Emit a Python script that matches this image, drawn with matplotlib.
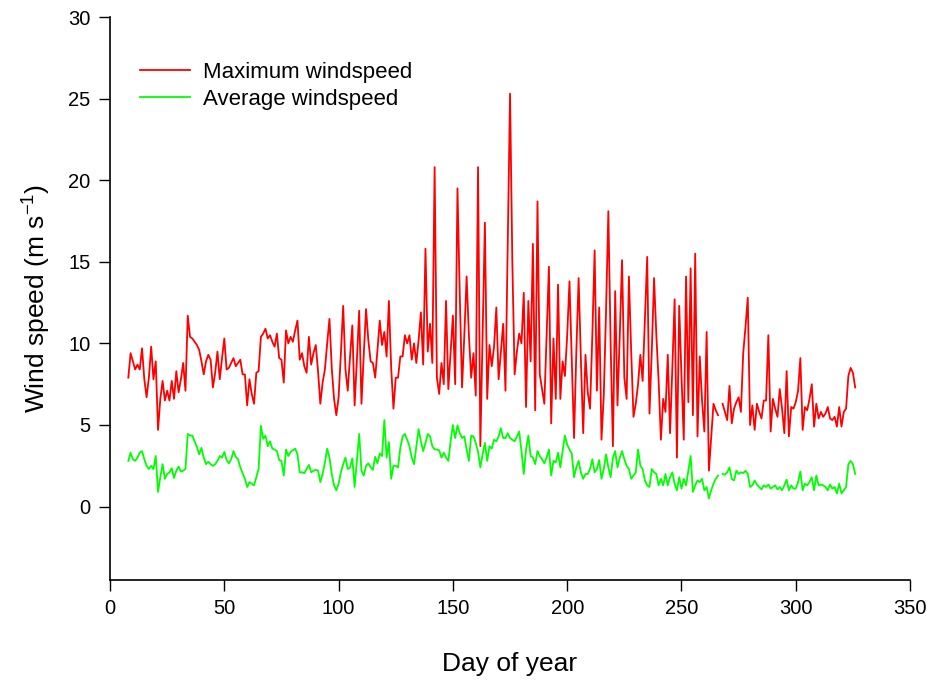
import matplotlib
matplotlib.use("Agg")
import matplotlib.pyplot as plt
import numpy as np

plt.rcParams['font.family'] = ['Liberation Sans', 'DejaVu Sans']
plt.rcParams['mathtext.fontset'] = 'custom'
plt.rcParams['mathtext.rm'] = 'Liberation Sans'

# daily values, day 8 .. 326 (day 267 missing)
first_day = 8

max_wind = [
    7.9, 9.4, 8.9, 8.4, 8.7, 8.4, 9.7, 7.8, 6.7, 7.9,          # 8-17
    9.8, 7.8, 8.9, 4.7, 6.6, 7.7, 6.5, 7.1, 6.5, 7.7,          # 18-27
    6.6, 8.3, 7.0, 7.8, 8.8, 7.1, 11.7, 10.4, 10.3, 10.1,      # 28-37
    9.9, 9.6, 8.9, 8.1, 8.9, 9.3, 9.0, 7.3, 8.2, 9.5,          # 38-47
    7.8, 9.1, 10.3, 8.4, 8.5, 8.8, 9.1, 8.6, 8.8, 9.0,         # 48-57
    8.1, 8.1, 6.2, 7.8, 6.9, 6.3, 8.2, 8.3, 10.4, 10.6,        # 58-67
    10.9, 10.3, 10.5, 10.1, 9.8, 10.6, 9.1, 9.0, 7.6, 10.8,    # 68-77
    10.0, 10.4, 10.1, 10.8, 11.4, 9.0, 9.4, 8.6, 8.2, 10.4,    # 78-87
    8.7, 9.4, 9.9, 8.3, 6.3, 7.6, 8.4, 10.0, 11.5, 8.5,        # 88-97
    6.6, 5.6, 6.7, 9.4, 12.3, 8.4, 7.1, 9.2, 11.1, 6.2,        # 98-107
    9.0, 12.0, 6.3, 9.3, 12.1, 10.2, 8.9, 8.8, 7.9, 9.6,       # 108-117
    11.4, 9.9, 10.7, 9.2, 12.6, 8.5, 6.0, 7.9, 7.9, 9.2,       # 118-127
    9.2, 10.5, 10.0, 10.5, 9.0, 10.0, 8.8, 10.2, 11.9, 8.7,    # 128-137
    15.8, 9.5, 11.2, 8.8, 20.8, 7.9, 6.9, 8.8, 7.5, 12.6,      # 138-147
    7.2, 9.4, 11.7, 7.5, 19.5, 13.0, 7.3, 10.5, 14.1, 10.5,    # 148-157
    7.9, 9.4, 6.8, 20.8, 3.7, 10.5, 17.4, 6.6, 9.9, 8.6,       # 158-167
    9.8, 12.2, 7.8, 9.5, 11.2, 7.1, 16.0, 25.3, 15.0, 8.1,     # 168-177
    9.5, 10.6, 10.0, 13.1, 6.1, 12.6, 8.9, 16.1, 5.9, 18.7,    # 178-187
    8.1, 7.2, 6.3, 10.5, 14.7, 5.1, 10.3, 6.6, 13.6, 6.6,      # 188-197
    8.9, 8.0, 10.5, 13.8, 9.0, 4.2, 9.5, 14.0, 9.0, 4.5,       # 198-207
    9.3, 7.0, 6.0, 10.5, 15.7, 7.1, 12.2, 4.1, 6.8, 12.0,      # 208-217
    18.1, 10.0, 3.7, 13.2, 6.2, 10.5, 15.1, 7.9, 6.6, 14.1,    # 218-227
    9.5, 5.5, 6.3, 7.5, 9.3, 7.7, 11.5, 15.3, 5.7, 9.5,        # 228-237
    14.0, 10.5, 7.7, 4.1, 6.6, 5.8, 9.3, 4.5, 8.5, 12.7,       # 238-247
    3.0, 12.3, 8.0, 4.1, 14.1, 6.4, 14.6, 5.6, 15.5, 4.3,      # 248-257
    9.2, 6.5, 4.6, 10.7, 2.2, 4.3, 6.3, 5.9, 5.6, np.nan,      # 258-267
    6.3, 5.8, 5.3, 7.4, 5.1, 6.0, 6.4, 6.7, 5.8, 9.4,          # 268-277
    11.0, 12.8, 5.0, 6.2, 4.7, 6.3, 5.8, 5.4, 6.5, 6.5,        # 278-287
    10.5, 4.6, 6.6, 6.0, 5.5, 7.2, 6.0, 4.5, 8.3, 4.3,         # 288-297
    6.1, 6.0, 6.4, 7.1, 9.1, 4.7, 6.1, 5.9, 6.6, 7.5,          # 298-307
    4.9, 6.3, 5.4, 5.8, 5.5, 5.7, 6.1, 5.4, 5.3, 5.5,          # 308-317
    4.9, 6.1, 4.9, 5.8, 6.0, 8.0, 8.5, 8.2, 7.3,               # 318-326
]

avg_wind = [
    2.8, 3.3, 2.9, 2.8, 3.0, 3.3, 3.4, 2.9, 2.5, 2.3,          # 8-17
    2.5, 2.3, 3.1, 0.9, 1.8, 2.6, 1.7, 2.0, 2.1, 2.35,         # 18-27
    1.75, 2.2, 2.45, 2.15, 2.2, 2.3, 4.45, 4.35, 4.35, 4.0,    # 28-37
    3.65, 3.2, 3.6, 3.0, 2.6, 2.75, 2.6, 2.5, 2.6, 2.8,        # 38-47
    3.1, 3.0, 3.35, 2.85, 2.65, 2.9, 3.4, 3.05, 2.9, 2.4,      # 48-57
    2.05, 1.7, 1.2, 1.5, 1.4, 1.3, 1.8, 2.3, 4.95, 4.15,       # 58-67
    4.35, 3.7, 4.0, 3.55, 3.5, 3.4, 2.85, 2.8, 1.9, 3.5,       # 68-77
    3.1, 3.35, 3.45, 3.55, 3.2, 2.1, 2.1, 2.05, 2.3, 2.55,     # 78-87
    2.1, 2.2, 2.25, 2.2, 1.5, 2.0, 2.7, 3.55, 3.0, 2.0,        # 88-97
    1.3, 1.0, 1.4, 2.1, 2.6, 3.0, 2.3, 2.4, 2.95, 1.2,         # 98-107
    2.8, 4.45, 2.2, 1.9, 2.5, 2.65, 2.4, 2.25, 3.05, 2.65,     # 108-117
    3.25, 3.1, 5.3, 3.0, 3.95, 1.7, 2.5, 2.5, 2.4, 3.6,        # 118-127
    4.3, 4.45, 4.1, 3.7, 3.0, 2.6, 3.65, 4.75, 4.0, 3.4,       # 128-137
    3.9, 4.45, 4.3, 3.7, 3.5, 3.5, 3.45, 3.0, 3.3, 3.0,        # 138-147
    2.8, 4.0, 5.0, 4.2, 4.97, 4.5, 4.2, 4.3, 3.5, 2.8,         # 148-157
    4.35, 4.3, 3.9, 3.35, 2.4, 3.2, 3.9, 2.8, 3.7, 3.55,       # 158-167
    4.1, 4.0, 4.3, 4.8, 4.2, 4.2, 4.5, 4.2, 4.1, 4.0,          # 168-177
    4.3, 4.6, 3.4, 2.0, 3.5, 4.35, 3.1, 3.0, 2.6, 3.4,         # 178-187
    3.1, 2.9, 2.65, 3.0, 3.5, 1.9, 2.8, 2.7, 3.3, 2.4,         # 188-197
    3.4, 4.35, 3.8, 3.5, 3.25, 1.8, 2.4, 2.8, 2.1, 1.7,        # 198-207
    2.0, 2.0, 2.3, 2.9, 2.1, 2.3, 2.85, 1.7, 2.3, 3.2,         # 208-217
    2.4, 1.8, 3.0, 3.4, 2.4, 3.0, 3.4, 2.9, 2.5, 2.3,          # 218-227
    1.7, 1.9, 2.1, 3.5, 2.5, 2.3, 1.6, 1.3, 1.2, 2.3,          # 228-237
    2.1, 2.0, 1.3, 1.7, 1.3, 2.0, 1.3, 1.8, 2.1, 1.4,          # 238-247
    1.0, 1.8, 1.1, 1.7, 1.3, 2.2, 3.1, 0.9, 1.3, 1.6,          # 248-257
    1.5, 1.7, 1.0, 1.2, 0.5, 1.0, 1.4, 1.7, 1.9, np.nan,       # 258-267
    2.0, 1.95, 2.1, 2.4, 1.7, 1.6, 2.2, 2.0, 2.1, 2.05,        # 268-277
    2.2, 2.0, 1.2, 1.3, 1.6, 1.35, 1.2, 1.05, 1.3, 1.2,        # 278-287
    1.35, 1.1, 1.2, 1.3, 1.05, 1.2, 1.0, 1.3, 1.65, 1.0,       # 288-297
    1.3, 1.1, 1.1, 1.5, 2.15, 1.0, 1.4, 1.3, 1.5, 1.8,         # 298-307
    1.0, 1.9, 1.3, 1.35, 1.3, 1.2, 1.0, 1.35, 1.1, 1.2,        # 308-317
    0.8, 1.4, 0.8, 1.0, 1.2, 2.6, 2.8, 2.6, 2.0,               # 318-326
]

days = np.arange(first_day, first_day + len(max_wind))

fig = plt.figure(figsize=(9.42, 6.81), dpi=100)
ax = fig.add_axes([0.1168, 0.1483, 0.8493, 0.8267])

ax.plot(days, max_wind, color='#ff0000', lw=1.3, label='Maximum windspeed')
ax.plot(days, avg_wind, color='#00ff00', lw=1.3, label='Average windspeed')

ax.set_xlim(0, 350)
ax.set_ylim(-4.5, 30)
ax.set_xticks(np.arange(0, 351, 50))
ax.set_yticks(np.arange(0, 31, 5))

for side in ['top', 'right']:
    ax.spines[side].set_visible(False)
for side in ['left', 'bottom']:
    ax.spines[side].set_linewidth(1.2)

ax.tick_params(direction='out', length=8, width=1, labelsize=14.5, pad=6)
ax.set_xlabel('Day of year', fontsize=19, labelpad=24)
ax.set_ylabel(r'Wind speed (m s$^{\mathregular{-1}}$)', fontsize=19, labelpad=12)

ax.legend(loc='upper left', bbox_to_anchor=(0.0375, 0.92), frameon=False,
          borderaxespad=0, borderpad=0,
          fontsize=16, handlelength=2.25, handletextpad=0.6, labelspacing=0.25)

fig.savefig('out.png', dpi=100)
